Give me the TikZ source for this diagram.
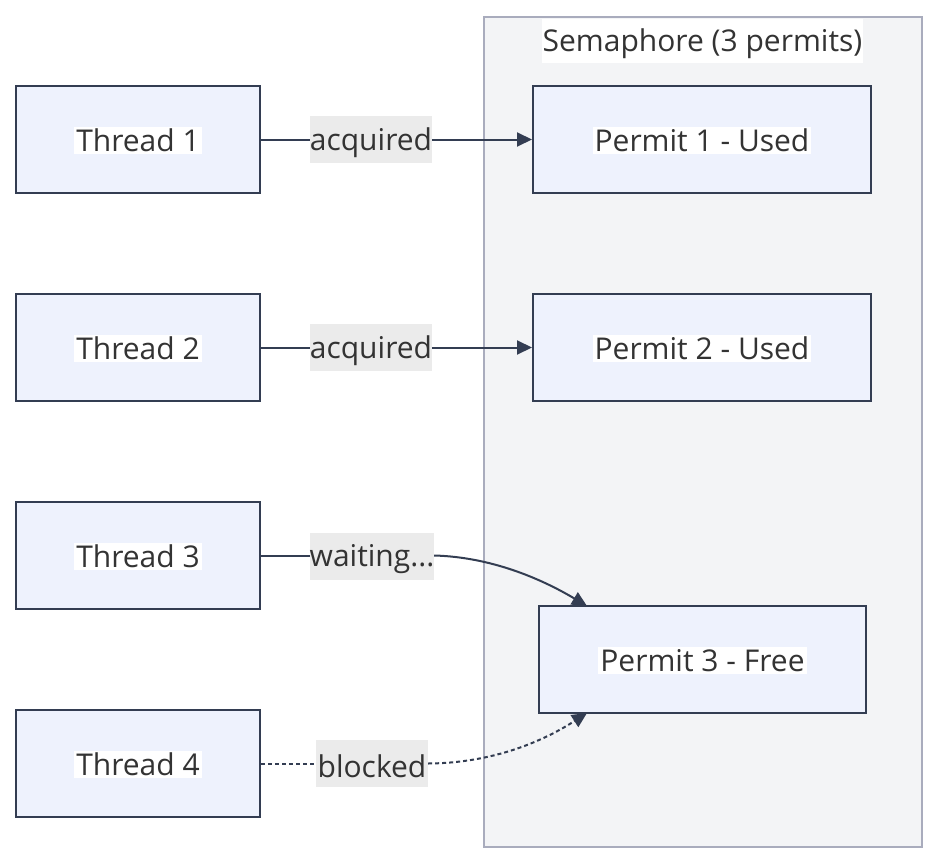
\documentclass[tikz,border=0pt]{standalone}
\usepackage{fontspec}
\setmainfont{Open Sans}
\usetikzlibrary{arrows.meta}
\definecolor{edgec}{HTML}{333D52}
\definecolor{nodefill}{HTML}{EEF2FD}
\definecolor{clusterfill}{HTML}{F3F4F6}
\definecolor{clusterdraw}{HTML}{A9ACBD}
\definecolor{labelfill}{HTML}{EBEBEB}
\definecolor{txt}{HTML}{333333}
\begin{document}
\begin{tikzpicture}[x=1pt,y=-1pt,
  font=\fontsize{30}{36}\selectfont, text=txt,
  box/.style={draw=edgec, line width=2pt, fill=nodefill, minimum height=107pt, inner sep=0pt},
  inlabel/.style={fill=white, inner sep=2pt, text=txt, yshift=-1pt},
  elabel/.style={fill=labelfill, inner sep=0pt, minimum height=47pt},
  etext/.style={inner sep=0pt, text=txt, yshift=-3pt},
  conn/.style={draw=edgec, line width=2pt},
  tip/.style={-{Triangle[length=15pt,width=14pt]}}
]
\useasboundingbox (0,0) rectangle (938,862);
% cluster
\node[draw=clusterdraw, line width=2pt, fill=clusterfill, minimum width=438pt, minimum height=830pt, inner sep=0pt, anchor=north west] (sem) at (483,16) {};
\node[fill=white, inner sep=0pt, minimum width=321pt, minimum height=44pt] (semt) at (702.5,41) {};
\node[etext] (semtxt) at (semt) {Semaphore (3 permits)};
% threads
\node[box, minimum width=244pt] (t1) at (138,139.5) {};
\node[inlabel] (t1t) at (t1) {Thread 1};
\node[box, minimum width=244pt] (t2) at (138,347.5) {};
\node[inlabel] (t2t) at (t2) {Thread 2};
\node[box, minimum width=244pt] (t3) at (138,555.5) {};
\node[inlabel] (t3t) at (t3) {Thread 3};
\node[box, minimum width=244pt] (t4) at (138,763.5) {};
\node[inlabel] (t4t) at (t4) {Thread 4};
% permits
\node[box, minimum width=338pt] (p1) at (702,139.5) {};
\node[inlabel] (p1t) at (p1) {Permit 1 - Used};
\node[box, minimum width=338pt] (p2) at (702,347.5) {};
\node[inlabel] (p2t) at (p2) {Permit 2 - Used};
\node[box, minimum width=327pt] (p3) at (702.5,659.5) {};
\node[inlabel] (p3t) at (p3) {Permit 3 - Free};
% edge labels
\node[elabel, minimum width=122pt] (l1) at (371,139.5) {};
\node[etext] (l1t) at (l1) {acquired};
\node[elabel, minimum width=122pt] (l2) at (371,347.5) {};
\node[etext] (l2t) at (l2) {acquired};
\node[elabel, minimum width=124pt] (l3) at (372,556) {};
\node[etext] (l3t) at (l3) {waiting...};
\node[elabel, minimum width=112pt] (l4) at (372,763.5) {};
\node[etext] (l4t) at (l4) {blocked};
\coordinate (p3top) at (587,606);
\coordinate (p3bot) at (587,713);
% edges
\draw[conn] (t1.east) -- (l1.west);
\draw[conn, tip] (l1.east) -- (p1.west);
\draw[conn] (t2.east) -- (l2.west);
\draw[conn, tip] (l2.east) -- (p2.west);
\draw[conn] (t3.east) -- (l3.west |- t3.east);
\draw[conn, tip] (l3.east |- t3.east) .. controls (490,557) and (540,578) .. (p3top);
\draw[conn, dash pattern=on 4pt off 3pt] (t4.east) -- (l4.west);
\draw[conn, tip, dash pattern=on 4pt off 3pt] (l4.east) .. controls (495,763) and (545,740) .. (p3bot);
\end{tikzpicture}
\end{document}
